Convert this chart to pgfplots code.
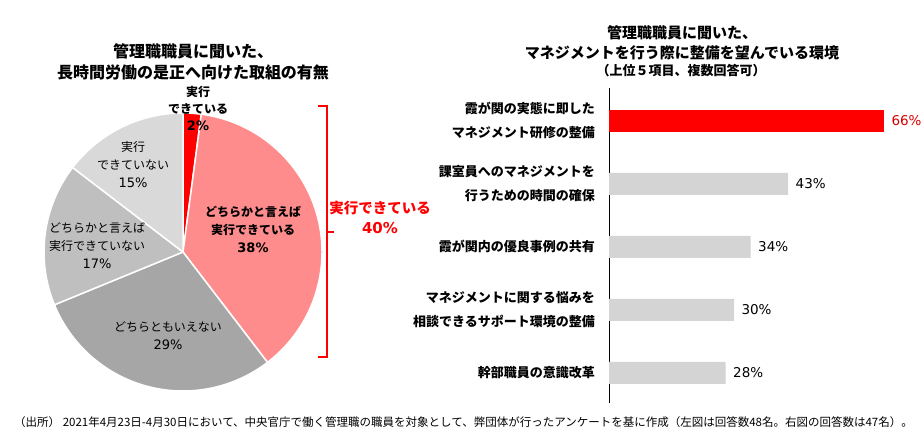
\documentclass[border=0pt]{standalone}
\usepackage{fontspec}
\setmainfont{Noto Sans CJK JP}
\newfontfamily\numfont{DejaVu Sans}
\usepackage{pgfplots}
\pgfplotsset{compat=1.18}
\usepackage{pgfplotstable}

\definecolor{pieRed}{HTML}{FF0000}
\definecolor{pieSalmon}{HTML}{FF8C8C}
\definecolor{pieDark}{HTML}{A6A6A6}
\definecolor{pieMid}{HTML}{BFBFBF}
\definecolor{pieLight}{HTML}{D9D9D9}
\definecolor{barGray}{HTML}{D4D4D4}

% right chart: share of answers (%), top to bottom
\pgfplotstableread{
idx val
0 66
}\toptable
\pgfplotstableread{
idx val
1 43
2 34
3 30
4 28
}\resttable

% pie slice, from/to as cumulative percent, clockwise from 12 o'clock
\newcommand{\slice}[3]{%
  \fill[#3, draw=white, line width=1.5pt] (axis cs:0,0) -- ++({90-3.6*#1}:139pt)
    arc[start angle={90-3.6*#1}, end angle={90-3.6*#2}, radius=139pt] -- cycle;}

\begin{document}
\begin{tikzpicture}
\path[use as bounding box] (0pt,0pt) rectangle (924pt,-434pt);

% ---- left: pie ----
\begin{axis}[
    at={(44pt,-391pt)}, anchor=south west,
    scale only axis, width=278pt, height=278pt,
    hide axis,
    xmin=-1, xmax=1, ymin=-1, ymax=1,
]
    % 2.1 / 37.5 / 29.2 / 16.7 / 14.6 %
    \slice{0}{2.1}{pieRed}
    \slice{2.1}{39.6}{pieSalmon}
    \slice{39.6}{68.8}{pieDark}
    \slice{68.8}{85.4}{pieMid}
    \slice{85.4}{100}{pieLight}
\end{axis}

\node[font=\bfseries\fontsize{16}{21}\selectfont, align=center] at (193pt,-61.5pt)
    {管理職職員に聞いた、\\長時間労働の是正へ向けた取組の有無};

\node[font=\bfseries\fontsize{12}{17}\selectfont, align=center] at (198pt,-108pt)
    {実行\\できている\\{\numfont\fontsize{13}{17}\selectfont 2\%}};
\node[font=\bfseries\fontsize{12}{18}\selectfont, align=center] at (253pt,-229pt)
    {どちらかと言えば\\実行できている\\{\numfont\fontsize{13}{18}\selectfont 38\%}};
\node[font=\fontsize{12}{18}\selectfont, align=center] at (133pt,-165pt)
    {実行\\できていない\\{\numfont\fontsize{13}{18}\selectfont 15\%}};
\node[font=\fontsize{12}{18}\selectfont, align=center] at (97pt,-246pt)
    {どちらかと言えば\\実行できていない\\{\numfont\fontsize{13}{18}\selectfont 17\%}};
\node[font=\fontsize{12}{18}\selectfont, align=center] at (168pt,-336pt)
    {どちらともいえない\\{\numfont\fontsize{13}{18}\selectfont 29\%}};

% bracket
\draw[pieRed, line width=1.5pt] (318pt,-106pt) -- (327pt,-106pt) -- (327pt,-357pt) -- (318pt,-357pt);
\draw[pieRed, line width=1.5pt] (327pt,-232pt) -- (334pt,-232pt);
\node[text=pieRed, font=\bfseries\fontsize{14.5}{20}\selectfont, align=center] at (380pt,-217pt)
    {実行できている\\{\numfont\fontsize{15}{20}\selectfont 40\%}};

% ---- right: bars ----
\begin{axis}[
    at={(609pt,-88.2pt)}, anchor=north west,
    scale only axis, width=312.5pt, height=314.7pt,
    xbar, bar width=22pt, bar shift=0pt,
    xmin=0, xmax=75, ymin=-0.52, ymax=4.476, y dir=reverse,
    axis x line=none, axis y line=left,
    axis line style={-, black, line width=0.9pt},
    ytick={0,...,4}, major tick length=0pt,
    yticklabels={
        {霞が関の実態に即した\\マネジメント研修の整備},
        {課室員へのマネジメントを\\行うための時間の確保},
        {霞が関内の優良事例の共有},
        {マネジメントに関する悩みを\\相談できるサポート環境の整備},
        {幹部職員の意識改革}},
    yticklabel style={align=right, font=\bfseries\fontsize{13}{24}\selectfont,
        inner sep=0pt, xshift=-14pt},
    point meta=x,
    /pgf/number format/assume math mode=true,
    nodes near coords={\pgfmathprintnumber{\pgfplotspointmeta}\%},
    every node near coord/.append style={font=\numfont\fontsize{13.5}{16}\selectfont,
        anchor=west, xshift=4pt},
]
    \addplot[fill=pieRed, draw=none,
        every node near coord/.append style={text=red!85!black}]
        table[x=val, y=idx] {\toptable};
    \addplot[fill=barGray, draw=none,
        every node near coord/.append style={text=black}]
        table[x=val, y=idx] {\resttable};
\end{axis}

\node[font=\bfseries\fontsize{15}{20}\selectfont, align=center] at (682pt,-43pt)
    {管理職職員に聞いた、\\マネジメントを行う際に整備を望んでいる環境};
\node[font=\bfseries\fontsize{13}{16}\selectfont] at (681pt,-71pt)
    {（上位５項目、複数回答可）};

% source note
\node[anchor=west, font=\fontsize{11.5}{13}\selectfont, inner sep=0pt] at (14pt,-422pt)
    {（出所）\ 2021年4月23日-4月30日において、中央官庁で働く管理職の職員を対象として、弊団体が行ったアンケートを基に作成（左図は回答数48名。右図の回答数は47名）。};
\end{tikzpicture}
\end{document}
